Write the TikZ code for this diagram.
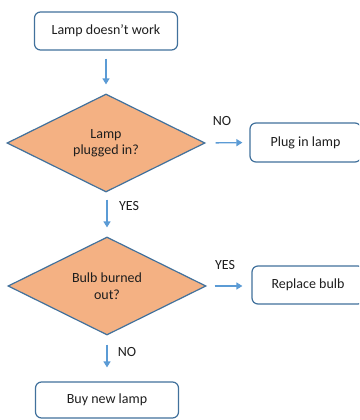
\documentclass[tikz,border=0pt]{standalone}
\usepackage{fontspec}
\setmainfont{Carlito}
\usetikzlibrary{shapes.geometric,arrows.meta}
\definecolor{edgeblue}{RGB}{65,113,156}
\definecolor{arrowblue}{RGB}{91,155,213}
\definecolor{orangefill}{RGB}{244,177,131}
\definecolor{txt}{RGB}{30,30,30}
\begin{document}
\begin{tikzpicture}[x=1pt,y=-1pt,
  every node/.style={font=\fontsize{14}{16.5}\selectfont, text=txt},
  procbox/.style={draw=edgeblue, line width=1.2pt, rounded corners=6pt, fill=white, inner sep=0pt, align=center},
  decision/.style={diamond, draw=edgeblue, line width=1.2pt, fill=orangefill, inner sep=0pt, minimum width=198pt, minimum height=98pt, align=center},
  flow/.style={draw=arrowblue, line width=1.3pt, -{Triangle[width=7pt,length=6pt]}},
  lbl/.style={inner sep=0pt}
]
\clip (0,0) rectangle (359,420);
\fill[white] (0,0) rectangle (359,420);

\node[procbox, minimum width=143pt, minimum height=38pt] (start) at (106,31) {Lamp doesn’t work};
\node[decision] (d1) at (106,143) {Lamp\\plugged in?};
\node[procbox, minimum width=111pt, minimum height=39pt] (plug) at (305.5,142.5) {Plug in lamp};
\node[decision] (d2) at (107,286) {Bulb burned\\out?};
\node[procbox, minimum width=112pt, minimum height=38pt] (repl) at (308,285) {Replace bulb};
\node[procbox, minimum width=143pt, minimum height=36pt] (buy) at (107,400) {Buy new lamp};

\draw[flow, shorten <=8pt, shorten >=9pt] (start.south) -- (d1.north);
\draw[flow, shorten <=10pt, shorten >=7pt] (d1.east) -- (plug.west);
\draw[flow, shorten <=7pt, shorten >=9pt] (d1.south -| d2.north) -- (d2.north);
\draw[flow, shorten <=8pt, shorten >=9pt] (d2.east) -- (d2.east -| repl.west);
\draw[flow, shorten <=9pt, shorten >=14pt] (d2.south) -- (buy.north);

\node[lbl] (no1) at (222,121) {NO};
\node[lbl] (yes1) at (129,206) {YES};
\node[lbl] (yes2) at (225,265) {YES};
\node[lbl] (no2) at (127,352) {NO};
\end{tikzpicture}
\end{document}
